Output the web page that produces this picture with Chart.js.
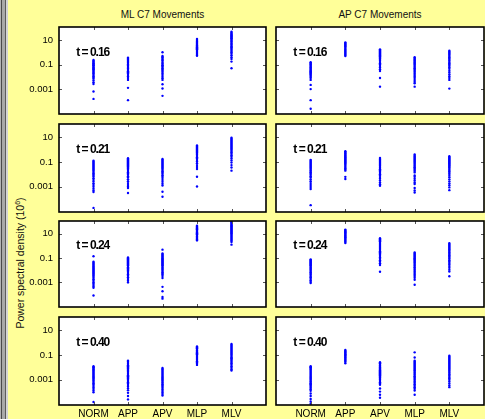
<!DOCTYPE html>
<html>
<head>
<meta charset="utf-8">
<script src="https://cdn.jsdelivr.net/npm/chart.js@4.4.1/dist/chart.umd.min.js"></script>
<style>
  html, body { margin: 0; padding: 0; }
  body { width: 485px; height: 419px; overflow: hidden; }
  #fig {
    position: relative; width: 485px; height: 419px; background: #ffff99;
    font-family: "Liberation Sans", Arial, sans-serif; color: #111;
  }
  #stripe {
    position: absolute; left: 0; top: 0; width: 8px; height: 419px;
    background: linear-gradient(to right, #b4b4b4 0 1px, #4a4a4a 1px 2px, #a9a9a9 2px 5px, #5c5c5c 5px 6px, #d4d4d4 6px 8px);
  }
  .title { position: absolute; top: 9px; font-size: 10px; line-height: 12px; transform: translateX(-50%); white-space: nowrap; }
  #ylabel {
    position: absolute; left: 20px; top: 263px; font-size: 10.5px; white-space: nowrap;
    transform: translate(-50%, -50%) rotate(-90deg);
  }
  #ylabel sup { font-size: 7px; }
  canvas { position: absolute; }
</style>
</head>
<body>
<div id="fig">
  <div id="stripe"></div>
  <div class="title" style="left:162.5px">ML C7 Movements</div>
  <div class="title" style="left:380px">AP C7 Movements</div>
  <div id="ylabel">Power spectral density (10<sup>6</sup>)</div>
</div>
<script>
const categories = ['NORM', 'APP', 'APV', 'MLP', 'MLV'];
const yTickValues = [10, 0.1, 0.001];
const yTickLabels = ['10', '0.1', '0.001'];
const tValues = ['0.16', '0.21', '0.24', '0.40'];

// log10 of the plotted densities; one inner list per category
const mlRow1 = [
  [-0.63,-0.7,-0.76,-0.85,-0.9,-0.98,-1.05,-1.1,-1.18,-1.25,-1.3,-1.38,-1.45,-1.52,-1.6,-1.68,-1.75,-1.85,-1.95,-2.05,-2.15,-2.3,-2.45,-2.58,-3.2,-3.8],
  [-0.44,-0.52,-0.6,-0.7,-0.78,-0.86,-0.95,-1.02,-1.1,-1.2,-1.28,-1.35,-1.45,-1.55,-1.62,-1.72,-1.85,-1.98,-2.1,-2.25,-2.9,-3.9],
  [0.0,-0.3,-0.38,-0.45,-0.55,-0.62,-0.7,-0.8,-0.88,-0.95,-1.05,-1.12,-1.2,-1.3,-1.4,-1.5,-1.6,-1.72,-1.85,-2.0,-2.12,-2.25,-2.6,-2.95,-3.55],
  [1.08,1.0,0.92,0.85,0.78,0.7,0.62,0.55,0.48,0.4,0.32,0.25,0.18,0.1,0.02,-0.06,-0.14,-0.22,-0.28],
  [1.67,1.6,1.52,1.45,1.38,1.3,1.22,1.15,1.08,1.0,0.92,0.85,0.76,0.68,0.6,0.5,0.4,0.3,0.2,0.1,0.0,-0.12,-0.25,-0.4,-0.55,-0.76,-1.3]
];
const apRow1 = [
  [-0.81,-0.88,-0.95,-1.02,-1.1,-1.18,-1.25,-1.32,-1.4,-1.48,-1.55,-1.62,-1.7,-1.8,-1.9,-2.0,-2.1,-2.25,-2.66,-3.0,-3.9,-4.6],
  [0.81,0.74,0.66,0.58,0.5,0.42,0.34,0.26,0.18,0.1,0.02,-0.06,-0.14,-0.22,-0.3],
  [0.24,0.16,0.08,0.0,-0.08,-0.16,-0.25,-0.33,-0.42,-0.5,-0.6,-0.7,-0.8,-0.9,-1.0,-1.12,-1.25,-1.38,-1.52,-2.1,-2.8],
  [-0.41,-0.5,-0.58,-0.66,-0.75,-0.84,-0.92,-1.0,-1.1,-1.2,-1.3,-1.4,-1.5,-1.6,-1.72,-1.85,-1.98,-2.1,-2.25,-2.4,-2.52,-2.8],
  [0.13,0.05,-0.03,-0.12,-0.2,-0.3,-0.4,-0.5,-0.6,-0.7,-0.8,-0.9,-1.0,-1.1,-1.22,-1.35,-1.5,-1.65,-1.8,-1.95,-2.1,-2.25,-2.96]
];
const mlRow2 = [
  [-0.9,-0.98,-1.06,-1.14,-1.22,-1.3,-1.38,-1.46,-1.54,-1.62,-1.7,-1.8,-1.9,-2.0,-2.1,-2.2,-2.32,-2.45,-2.58,-2.72,-2.86,-3.0,-3.15,-3.3,-3.42,-4.7],
  [-0.7,-0.78,-0.86,-0.94,-1.02,-1.1,-1.18,-1.26,-1.35,-1.44,-1.53,-1.62,-1.72,-1.82,-1.92,-2.02,-2.14,-2.26,-2.4,-2.55,-2.7,-2.85,-3.0,-3.1,-3.5],
  [-0.75,-0.83,-0.9,-0.98,-1.06,-1.14,-1.22,-1.3,-1.38,-1.46,-1.55,-1.64,-1.74,-1.84,-1.95,-2.06,-2.18,-2.3,-2.45,-2.6,-2.75,-2.9,-3.4,-3.8],
  [0.33,0.25,0.17,0.09,0.01,-0.07,-0.15,-0.24,-0.33,-0.42,-0.52,-0.62,-0.72,-0.84,-0.96,-1.1,-1.25,-1.4,-1.56,-2.19,-2.97],
  [0.95,0.87,0.79,0.71,0.63,0.55,0.47,0.39,0.31,0.23,0.15,0.07,-0.02,-0.12,-0.22,-0.33,-0.45,-0.58,-0.72,-0.88,-1.05,-1.25,-1.45,-1.7]
];
const apRow2 = [
  [-0.83,-0.9,-0.98,-1.06,-1.14,-1.22,-1.3,-1.38,-1.46,-1.55,-1.64,-1.73,-1.82,-1.92,-2.02,-2.14,-2.26,-2.4,-2.55,-2.7,-2.86,-3.02,-3.18,-4.48],
  [-0.13,-0.2,-0.27,-0.34,-0.41,-0.48,-0.55,-0.62,-0.7,-0.78,-0.86,-0.94,-1.02,-1.1,-1.2,-1.3,-1.4,-1.5,-1.6,-1.7,-2.2,-2.37],
  [-0.67,-0.75,-0.83,-0.91,-0.99,-1.07,-1.15,-1.23,-1.31,-1.4,-1.49,-1.58,-1.68,-1.78,-1.88,-1.98,-2.1,-2.22,-2.35,-2.5,-2.65,-2.8,-2.92],
  [-0.4,-0.5,-0.58,-0.66,-0.74,-0.82,-0.9,-0.98,-1.06,-1.15,-1.24,-1.33,-1.42,-1.52,-1.62,-1.72,-1.84,-2.08,-2.2,-2.35,-2.5,-2.65,-2.78,-3.1,-3.3,-3.46],
  [-0.54,-0.62,-0.7,-0.78,-0.86,-0.94,-1.02,-1.1,-1.18,-1.27,-1.36,-1.45,-1.55,-1.65,-1.75,-1.86,-1.97,-2.1,-2.24,-2.4,-2.56,-2.72,-2.88,-3.05,-3.27]
];
const mlRow3 = [
  [-0.84,-1.3,-1.38,-1.46,-1.54,-1.62,-1.7,-1.78,-1.86,-1.94,-2.02,-2.1,-2.18,-2.26,-2.35,-2.44,-2.54,-2.64,-2.75,-2.86,-2.98,-3.1,-3.22,-3.34,-3.45,-4.08],
  [-0.94,-1.02,-1.1,-1.18,-1.26,-1.34,-1.42,-1.5,-1.58,-1.66,-1.75,-1.84,-1.93,-2.02,-2.12,-2.22,-2.33,-2.45,-2.58,-2.72,-2.86,-3.0],
  [-0.3,-0.62,-0.7,-0.78,-0.86,-0.94,-1.02,-1.1,-1.18,-1.26,-1.34,-1.42,-1.5,-1.58,-1.66,-1.74,-1.82,-1.9,-1.98,-2.07,-2.16,-2.26,-2.36,-2.48,-2.64,-3.37,-3.73,-4.2,-4.34],
  [1.67,1.6,1.53,1.46,1.39,1.32,1.25,1.18,1.11,1.04,0.97,0.9,0.83,0.76,0.68,0.6,0.53,0.46],
  [2.0,1.94,1.86,1.78,1.7,1.62,1.54,1.46,1.38,1.3,1.22,1.14,1.06,0.98,0.9,0.82,0.74,0.66,0.58,0.5,0.42,0.32,0.11]
];
const apRow3 = [
  [-1.1,-1.18,-1.26,-1.34,-1.42,-1.5,-1.58,-1.66,-1.74,-1.82,-1.9,-1.98,-2.07,-2.16,-2.26,-2.36,-2.47,-2.58,-2.7,-2.82,-2.94,-3.05],
  [1.35,1.28,1.21,1.14,1.07,1.0,0.93,0.86,0.79,0.72,0.65,0.58,0.5,0.42,0.33,0.24],
  [0.64,0.56,0.48,0.4,0.32,0.24,0.16,0.08,0.0,-0.08,-0.16,-0.25,-0.34,-0.43,-0.52,-0.62,-0.72,-0.83,-0.94,-1.06,-1.18,-1.3,-1.43,-1.57,-2.13],
  [-0.54,-0.62,-0.7,-0.78,-0.86,-0.94,-1.02,-1.1,-1.19,-1.28,-1.37,-1.46,-1.56,-1.66,-1.76,-1.87,-1.98,-2.1,-2.22,-2.35,-2.48,-2.62,-2.78,-3.19],
  [0.24,0.16,0.08,0.0,-0.08,-0.16,-0.24,-0.32,-0.4,-0.49,-0.58,-0.67,-0.76,-0.86,-0.96,-1.06,-1.17,-1.28,-1.4,-1.53,-1.66,-1.8,-1.95,-2.1,-2.5]
];
const mlRow4 = [
  [-1.91,-1.98,-2.05,-2.12,-2.19,-2.26,-2.34,-2.42,-2.5,-2.58,-2.66,-2.74,-2.82,-2.9,-2.99,-3.08,-3.18,-3.28,-3.38,-3.5,-3.62,-3.74,-3.87,-4.0,-4.79],
  [-1.46,-1.55,-1.64,-1.73,-1.82,-1.91,-2.0,-2.09,-2.18,-2.27,-2.36,-2.45,-2.54,-2.63,-2.72,-2.81,-2.9,-3.0,-3.1,-3.2,-3.3,-3.42,-3.55,-3.7,-3.85,-4.05,-4.3,-4.58],
  [-2.04,-2.12,-2.2,-2.28,-2.36,-2.44,-2.52,-2.6,-2.68,-2.76,-2.84,-2.92,-3.0,-3.08,-3.17,-3.26,-3.35,-3.45,-3.55,-3.66,-3.78,-3.9,-4.02,-4.14,-4.26],
  [-0.31,-0.38,-0.45,-0.52,-0.59,-0.66,-0.73,-0.8,-0.87,-0.94,-1.01,-1.08,-1.16,-1.24,-1.32,-1.41,-1.5,-1.6,-1.7,-1.8],
  [-0.12,-0.2,-0.28,-0.36,-0.44,-0.52,-0.6,-0.68,-0.76,-0.84,-0.92,-1.0,-1.09,-1.18,-1.27,-1.36,-1.46,-1.56,-1.67,-1.78,-1.9,-2.02,-2.14,-2.26]
];
const apRow4 = [
  [-1.91,-1.98,-2.05,-2.12,-2.2,-2.28,-2.36,-2.44,-2.52,-2.6,-2.68,-2.76,-2.84,-2.92,-3.0,-3.09,-3.18,-3.27,-3.36,-3.46,-3.56,-3.66,-3.77,-3.88,-4.1,-4.3,-4.55,-4.75,-4.92],
  [-0.6,-0.67,-0.74,-0.81,-0.88,-0.95,-1.02,-1.09,-1.16,-1.23,-1.3,-1.38,-1.46,-1.55,-1.67],
  [-1.59,-1.66,-1.73,-1.8,-1.87,-1.94,-2.01,-2.08,-2.16,-2.24,-2.32,-2.4,-2.48,-2.56,-2.64,-2.73,-2.82,-2.91,-3.0,-3.1,-3.2,-3.3,-3.4,-3.7,-3.95,-4.2,-4.44],
  [-0.79,-1.2,-1.46,-1.54,-1.62,-1.7,-1.78,-1.86,-1.94,-2.02,-2.1,-2.18,-2.26,-2.35,-2.44,-2.53,-2.62,-2.72,-2.82,-2.92,-3.02,-3.13,-3.24,-3.36,-3.48,-3.6,-3.72,-3.86,-4.2],
  [-1.06,-1.14,-1.22,-1.3,-1.38,-1.46,-1.54,-1.62,-1.7,-1.78,-1.86,-1.94,-2.02,-2.1,-2.19,-2.28,-2.37,-2.46,-2.56,-2.66,-2.77,-2.88,-3.0,-3.14,-3.3,-3.45,-3.59]
];

const panels = [[mlRow1, apRow1], [mlRow2, apRow2], [mlRow3, apRow3], [mlRow4, apRow4]];

// panel boxes in page pixels
const rowTops = [27, 124, 221, 317];
const rowBottoms = [114, 212, 307, 405];
const colLefts = [59, 276];
const colRights = [266, 484];
const FONT = '"Liberation Sans", Arial, sans-serif';

// white plot box, MATLAB-style inward ticks, black frame and the t label
const matlabAxes = {
  id: 'matlabAxes',
  beforeDatasetsDraw(chart) {
    const { ctx, chartArea: a } = chart;
    ctx.save();
    ctx.fillStyle = '#fff';
    ctx.fillRect(a.left, a.top, a.width, a.height);
    ctx.restore();
  },
  afterDatasetsDraw(chart, args, opts) {
    const { ctx, chartArea: a, scales: { x, y } } = chart;
    ctx.save();
    ctx.strokeStyle = '#555';
    ctx.lineWidth = 1;
    ctx.beginPath();
    x.ticks.forEach(t => {
      const px = Math.round(x.getPixelForValue(t.value)) + 0.5;
      ctx.moveTo(px, a.bottom); ctx.lineTo(px, a.bottom - 3);
      ctx.moveTo(px, a.top); ctx.lineTo(px, a.top + 3);
    });
    y.ticks.forEach(t => {
      const py = Math.round(y.getPixelForValue(t.value)) + 0.5;
      ctx.moveTo(a.left, py); ctx.lineTo(a.left + 3, py);
      ctx.moveTo(a.right, py); ctx.lineTo(a.right - 3, py);
    });
    ctx.stroke();
    ctx.strokeStyle = '#000';
    ctx.lineWidth = 1.6;
    ctx.strokeRect(a.left, a.top, a.width, a.height);

    ctx.fillStyle = '#000';
    ctx.font = 'bold 12px ' + FONT;
    ctx.letterSpacing = '-1px';
    ctx.textBaseline = 'middle';
    ctx.textAlign = 'left';
    ctx.fillText('t = ' + opts.t, x.getPixelForValue(0.5), y.getPixelForValue(1));
    ctx.restore();
  }
};

const fig = document.getElementById('fig');

panels.forEach((row, r) => {
  row.forEach((cols, c) => {
    const isLeft = c === 0;
    const isBottom = r === 3;
    const yAxisW = isLeft ? 59 : 3;
    const padTop = 3;
    const padRight = isLeft ? 3 : 1;
    const xAxisH = isBottom ? 14 : 3;

    const canvas = document.createElement('canvas');
    const left = colLefts[c] - yAxisW;
    const width = yAxisW + (colRights[c] - colLefts[c]) + padRight;
    const top = rowTops[r] - padTop;
    const height = padTop + (rowBottoms[r] - rowTops[r]) + xAxisH;
    canvas.width = width;
    canvas.height = height;
    canvas.style.left = left + 'px';
    canvas.style.top = top + 'px';
    fig.appendChild(canvas);

    const points = [];
    cols.forEach((vals, i) => {
      vals.forEach(v => points.push({ x: i + 1, y: Math.pow(10, v) }));
    });

    new Chart(canvas, {
      type: 'scatter',
      data: {
        datasets: [{
          data: points,
          pointRadius: 1.2,
          pointBackgroundColor: '#0000ff',
          pointBorderWidth: 0,
          borderWidth: 0,
          showLine: false
        }]
      },
      options: {
        responsive: false,
        animation: false,
        events: [],
        layout: { autoPadding: false, padding: { top: padTop, right: padRight, left: 0, bottom: 0 } },
        plugins: {
          legend: { display: false },
          tooltip: { enabled: false },
          matlabAxes: { t: tValues[r] }
        },
        scales: {
          x: {
            type: 'linear',
            min: 0,
            max: 6,
            afterBuildTicks: s => { s.ticks = categories.map((name, i) => ({ value: i + 1 })); },
            afterFit: s => { s.height = xAxisH; s.paddingLeft = 0; s.paddingRight = 0; },
            grid: { display: false, drawTicks: false },
            border: { display: false },
            ticks: {
              display: isBottom,
              autoSkip: false,
              maxRotation: 0,
              padding: 3,
              color: '#000',
              font: { family: FONT, size: 10 },
              callback: v => categories[v - 1]
            }
          },
          y: {
            type: 'logarithmic',
            min: Math.pow(10, -5.03),
            max: Math.pow(10, 2.06),
            afterBuildTicks: s => { s.ticks = yTickValues.map(v => ({ value: v })); },
            afterFit: s => { s.width = yAxisW; s.paddingTop = 0; s.paddingBottom = 0; },
            grid: { display: false, drawTicks: false },
            border: { display: false },
            ticks: {
              display: isLeft,
              autoSkip: false,
              padding: 6,
              color: '#000',
              font: { family: FONT, size: 9.5 },
              callback: v => yTickLabels[yTickValues.indexOf(v)]
            }
          }
        }
      },
      plugins: [matlabAxes]
    });
  });
});
</script>
</body>
</html>
